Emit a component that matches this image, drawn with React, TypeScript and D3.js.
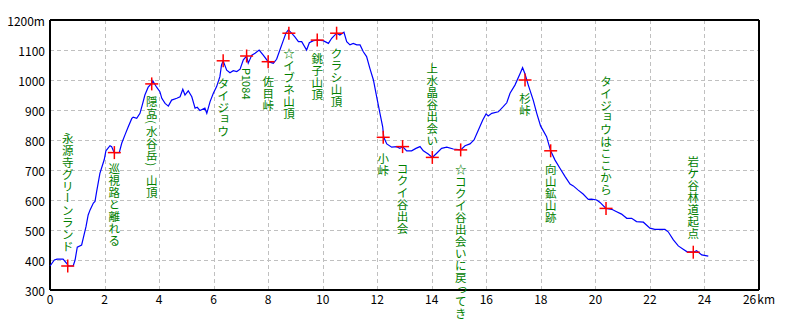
import React from "react";
import * as d3 from "d3";

// profile: distance (km) and elevation (m)
const distKm: number[] = [
  0, 0.16, 0.26, 0.48, 0.61, 0.67, 0.85, 0.92, 1.0, 1.16, 1.22, 1.32, 1.4, 1.47, 1.59, 1.65, 1.71, 1.83, 1.99, 2.05,
  2.2, 2.26, 2.32, 2.36, 2.54, 2.63, 2.75, 2.87, 3.0, 3.05, 3.18, 3.3, 3.4, 3.48, 3.6, 3.73, 3.77, 3.91, 4.03, 4.1,
  4.22, 4.34, 4.46, 4.65, 4.77, 4.87, 4.95, 5.07, 5.2, 5.32, 5.4, 5.5, 5.68, 5.75, 5.87, 5.99, 6.11, 6.23, 6.29, 6.35,
  6.48, 6.6, 6.72, 6.85, 6.97, 7.09, 7.21, 7.27, 7.4, 7.52, 7.67, 7.82, 8.0, 8.19, 8.31, 8.43, 8.56, 8.65, 8.74, 8.86,
  8.98, 9.11, 9.23, 9.41, 9.51, 9.66, 9.8, 10.02, 10.21, 10.33, 10.51, 10.63, 10.78, 10.88, 11.0, 11.12, 11.25, 11.37, 11.49, 11.61,
  11.73, 11.86, 11.98, 12.1, 12.2, 12.24, 12.35, 12.53, 12.71, 12.83, 12.93, 13.08, 13.26, 13.42, 13.57, 13.69, 13.87, 14.02, 14.18, 14.36,
  14.55, 14.79, 15.06, 15.22, 15.4, 15.55, 15.71, 15.87, 15.99, 16.07, 16.2, 16.44, 16.62, 16.75, 16.87, 17.05, 17.24, 17.33, 17.42, 17.54,
  17.72, 17.85, 17.99, 18.21, 18.36, 18.52, 18.7, 18.89, 19.07, 19.19, 19.37, 19.55, 19.74, 19.86, 20.05, 20.17, 20.39, 20.6, 20.78, 20.96,
  21.15, 21.33, 21.51, 21.76, 22.0, 22.18, 22.55, 22.67, 22.86, 23.04, 23.22, 23.35, 23.59, 23.71, 23.9, 24.14,
];
const elevM: number[] = [
  380, 400, 403, 403, 389, 380, 380, 400, 443, 450, 473, 511, 550, 567, 590, 595, 628, 689, 735, 764,
  781, 778, 765, 758, 758, 789, 817, 844, 872, 876, 872, 889, 922, 950, 976, 989, 997, 976, 961, 939,
  922, 913, 933, 939, 944, 969, 950, 964, 944, 906, 909, 898, 906, 889, 928, 956, 978, 1011, 1050, 1064,
  1033, 1024, 1031, 1028, 1036, 1067, 1080, 1056, 1083, 1089, 1100, 1083, 1061, 1056, 1069, 1100, 1133, 1156, 1167, 1156,
  1144, 1128, 1128, 1100, 1124, 1131, 1133, 1131, 1122, 1139, 1156, 1150, 1159, 1128, 1117, 1122, 1117, 1117, 1094, 1078,
  1039, 1000, 944, 889, 844, 809, 787, 776, 778, 772, 778, 764, 764, 772, 778, 764, 753, 742, 756, 772,
  776, 770, 767, 781, 787, 800, 833, 867, 887, 880, 889, 894, 911, 924, 956, 983, 1022, 1041, 1020, 983,
  933, 889, 847, 811, 764, 733, 706, 678, 653, 647, 633, 620, 602, 603, 600, 592, 572, 569, 561, 553,
  539, 539, 528, 526, 506, 502, 502, 494, 467, 447, 436, 428, 426, 431, 417, 413,
];

// waypoints
const wpKm: number[] = [0.65, 2.36, 3.73, 6.35, 7.21, 8.0, 8.76, 9.8, 10.51, 12.22, 12.93, 14.02, 15.06, 17.42, 18.36, 20.39, 23.59];
const wpElev: number[] = [380, 758, 987, 1064, 1080, 1061, 1156, 1133, 1156, 809, 778, 742, 767, 1000, 764, 572, 426];
const wpNames: string[] = [
  "永源寺グリーンランド",
  "巡視路と離れる",
  "隠嵓(水谷岳) 山頂",
  "タイジョウ",
  "P1084",
  "佐目峠",
  "☆イブネ山頂",
  "銚子山頂",
  "クラシ山頂",
  "小峠",
  "コクイ谷出会",
  "上水晶谷出会い",
  "☆コクイ谷出会いに戻ってき",
  "杉峠",
  "向山鉱山跡",
  "タイジョウはここから",
  "岩ケ谷林道起点",
];
// elevation (m) where each label starts
const wpLabelTop: number[] = [828, 728, 950, 1011, 1039, 1017, 1111, 1094, 1111, 761, 727, 1061, 723, 961, 722, 1017, 750];

const xTicks: number[] = [0, 2, 4, 6, 8, 10, 12, 14, 16, 18, 20, 22, 24, 26];
const yTicks: number[] = [300, 400, 500, 600, 700, 800, 900, 1000, 1100, 1200];

const W = 800;
const H = 320;
const L = 50;
const R = 759;
const T = 20;
const B = 290;
const FONT = "'Noto Sans CJK JP', sans-serif";

const smallKana = "ァィゥェォッャュョぁぃぅぇぉっゃゅょ";

function VLabel({ x, top, text }: { x: number; top: number; text: string }) {
  const chars = Array.from(text);
  const items: React.ReactNode[] = [];
  let y = top;
  chars.forEach((ch, i) => {
    const code = ch.charCodeAt(0);
    const half = code < 0x2000;
    if (half) {
      const adv = 6.3;
      if (ch !== " ") {
        items.push(
          <text
            key={i}
            transform={`translate(${x},${y + adv / 2}) rotate(90)`}
            textAnchor="middle"
            dominantBaseline="central"
            fontSize={11}
          >
            {ch}
          </text>
        );
      }
      y += adv;
    } else {
      const adv = 12;
      if (ch === "ー") {
        items.push(
          <text
            key={i}
            transform={`translate(${x},${y + adv / 2}) rotate(90)`}
            textAnchor="middle"
            dominantBaseline="central"
            fontSize={11.5}
          >
            {ch}
          </text>
        );
      } else {
        const sk = smallKana.includes(ch);
        items.push(
          <text
            key={i}
            x={x + (sk ? 1.5 : 0)}
            y={y + adv / 2 - (sk ? 1.5 : 0)}
            textAnchor="middle"
            dominantBaseline="central"
            fontSize={11.5}
          >
            {ch}
          </text>
        );
      }
      y += adv;
    }
  });
  return <g fill="#008000">{items}</g>;
}

export default function App() {
  const x = d3.scaleLinear().domain([0, 26]).range([L, R]);
  const y = d3.scaleLinear().domain([300, 1200]).range([B, T]);
  const pts: [number, number][] = distKm.map((d, i) => [d, elevM[i]]);
  const line = d3
    .line<[number, number]>()
    .x((d) => x(d[0]))
    .y((d) => y(d[1]));

  return (
    <svg
      width={W}
      height={H}
      style={{ position: "absolute", left: 0, top: 0, background: "#fff" }}
      fontFamily={FONT}
    >
      <rect x={0} y={0} width={W} height={H} fill="#fff" />
      {/* grid */}
      <g stroke="#c0c0c0" strokeDasharray="4,3" shapeRendering="crispEdges">
        {xTicks
          .filter((t) => t > 0 && t < 26)
          .map((t) => (
            <line key={"gx" + t} x1={Math.round(x(t)) + 0.5} x2={Math.round(x(t)) + 0.5} y1={T} y2={B} />
          ))}
        {yTicks
          .filter((t) => t > 300 && t < 1200)
          .map((t) => (
            <line key={"gy" + t} x1={L} x2={R} y1={Math.round(y(t)) + 0.5} y2={Math.round(y(t)) + 0.5} />
          ))}
      </g>
      {/* frame */}
      <g stroke="#000" strokeWidth={1.5} fill="none" shapeRendering="crispEdges">
        <line x1={L} x2={R} y1={T} y2={T} />
        <line x1={R} x2={R} y1={T} y2={B} />
        <line x1={L} x2={R} y1={B} y2={B} />
        <line x1={L} x2={L} y1={T} y2={B} />
      </g>
      {/* tick labels */}
      <g fontSize={12} fill="#000">
        {yTicks.map((t) => (
          <text key={"yl" + t} x={45} y={y(t)} textAnchor="end" dominantBaseline="central">
            {t === 1200 ? `${t}m` : t}
          </text>
        ))}
        {xTicks.map((t) => (
          <text key={"xl" + t} x={x(t)} y={304} textAnchor="middle">
            {t}
            {t === 26 ? <tspan dx={1}>km</tspan> : null}
          </text>
        ))}
      </g>
      {/* profile */}
      <path d={line(pts) ?? ""} fill="none" stroke="#0000ff" strokeWidth={1.2} />
      {/* waypoint markers */}
      <g stroke="#ff0000" strokeWidth={1.5}>
        {wpKm.map((k, i) => (
          <g key={"wp" + i}>
            <line x1={x(k) - 6.5} x2={x(k) + 6.5} y1={y(wpElev[i])} y2={y(wpElev[i])} />
            <line x1={x(k)} x2={x(k)} y1={y(wpElev[i]) - 6.5} y2={y(wpElev[i]) + 6.5} />
          </g>
        ))}
      </g>
      {/* labels */}
      {wpNames.map((n, i) => (
        <VLabel key={"lb" + i} x={x(wpKm[i])} top={y(wpLabelTop[i])} text={n} />
      ))}
    </svg>
  );
}
